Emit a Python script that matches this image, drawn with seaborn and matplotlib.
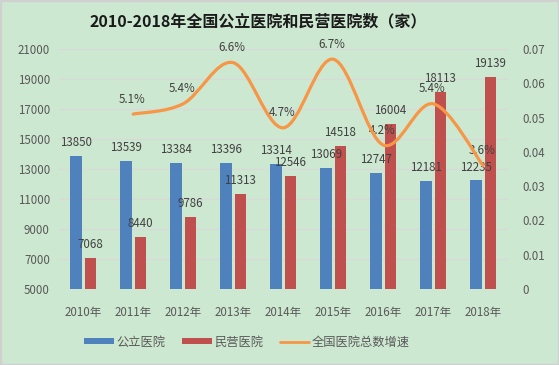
import numpy as np
import pandas as pd
import seaborn as sns
import matplotlib.pyplot as plt
from matplotlib.path import Path
from matplotlib.patches import PathPatch, Patch, Rectangle
from matplotlib.lines import Line2D
from matplotlib.ticker import FuncFormatter

# ======================================================
# Data
# ======================================================

years = ["2010年", "2011年", "2012年", "2013年", "2014年",
         "2015年", "2016年", "2017年", "2018年"]
public = [13850, 13539, 13384, 13396, 13314, 13069, 12747, 12181, 12235]
private = [7068, 8440, 9786, 11313, 12546, 14518, 16004, 18113, 19139]
growth_years = years[1:]
growth = [0.051, 0.054, 0.066, 0.047, 0.067, 0.042, 0.054, 0.036]

df = pd.DataFrame({
    "year": years * 2,
    "count": public + private,
    "type": ["公立医院"] * len(years) + ["民营医院"] * len(years),
})

# ======================================================
# Style
# ======================================================

sns.set_style("white")
plt.rcParams["font.family"] = ["Noto Sans CJK SC", "DejaVu Sans"]

bg = "#CDE8D0"
blue = "#4F81BD"
red = "#C0504D"
orange = "#F79646"
txt = "#404040"
tick_c = "#595959"

fig = plt.figure(figsize=(5.59, 3.65), dpi=100, facecolor=bg)
ax = fig.add_axes([0.104, 0.208, 0.805, 0.658])
ax.set_facecolor("none")

sns.barplot(
    data=df,
    x="year",
    y="count",
    hue="type",
    palette=[blue, red],
    width=0.58,
    gap=0.2,
    linewidth=0,
    saturation=1,
    legend=False,
    ax=ax,
    zorder=3
)

ax.set_ylim(5000, 21000)
ax.set_xlim(-0.5, len(years) - 0.5)
ax.set_yticks(range(5000, 21001, 2000))
ax.yaxis.grid(True, color="#D9D9D9", linewidth=0.9, zorder=0)
ax.set_axisbelow(True)
ax.set_xlabel("")
ax.set_ylabel("")
for s in ax.spines.values():
    s.set_visible(False)
ax.tick_params(axis="both", length=0, labelsize=8.3, colors=tick_c, pad=6)
ax.tick_params(axis="x", pad=12)

for cont in ax.containers:
    ax.bar_label(cont, fontsize=8.3, color=txt, padding=5)

# ======================================================
# Growth line (smoothed like Excel)
# ======================================================

ax2 = ax.twinx()
ax2.set_ylim(0, 0.07)
ax2.set_yticks(np.arange(0, 0.0701, 0.01))
ax2.yaxis.set_major_formatter(FuncFormatter(lambda v, p: "0" if v == 0 else f"{v:.2f}"))
for s in ax2.spines.values():
    s.set_visible(False)
ax2.tick_params(axis="y", length=0, labelsize=8.3, colors=tick_c, pad=10)

xs = np.array([years.index(y) for y in growth_years], dtype=float)
ys = np.array(growth)
pts = np.column_stack([xs, ys])
ext = np.vstack([pts[0], pts, pts[-1]])
verts = [pts[0]]
codes = [Path.MOVETO]
for i in range(len(pts) - 1):
    p0, p1, p2, p3 = ext[i], ext[i + 1], ext[i + 2], ext[i + 3]
    c1 = p1 + (p2 - p0) / 6
    c2 = p2 - (p3 - p1) / 6
    verts += [c1, c2, p2]
    codes += [Path.CURVE4] * 3
ax2.add_patch(PathPatch(Path(verts, codes), facecolor="none",
                        edgecolor=orange, linewidth=2.3, capstyle="round", zorder=4))

for x, y in zip(xs, ys):
    ax2.annotate(f"{y * 100:.1f}%", (x, y), xytext=(-1, 6), textcoords="offset points",
                 ha="center", va="bottom", fontsize=8.3, color=txt)

# ======================================================
# Title, legend, border
# ======================================================

fig.text(0.462, 0.94, "2010-2018年全国公立医院和民营医院数（家）",
         ha="center", va="center", fontsize=11.5, fontweight="bold", color="#1a1a1a")

handles = [
    Patch(facecolor=blue, edgecolor="none"),
    Patch(facecolor=red, edgecolor="none"),
    Line2D([0], [0], color=orange, linewidth=2),
]
fig.legend(handles, ["公立医院", "民营医院", "全国医院总数增速"],
           loc="center", bbox_to_anchor=(0.442, 0.063), ncol=3, frameon=False,
           fontsize=8.8, labelcolor=tick_c, handlelength=2.4, handleheight=0.45,
           handletextpad=0.2, columnspacing=1.4)

fig.patches.append(Rectangle((0, 0), 1, 1, transform=fig.transFigure,
                             facecolor="none", edgecolor="#D0D0D0", linewidth=2.5))

fig.savefig("out.png", dpi=100, facecolor=bg)
